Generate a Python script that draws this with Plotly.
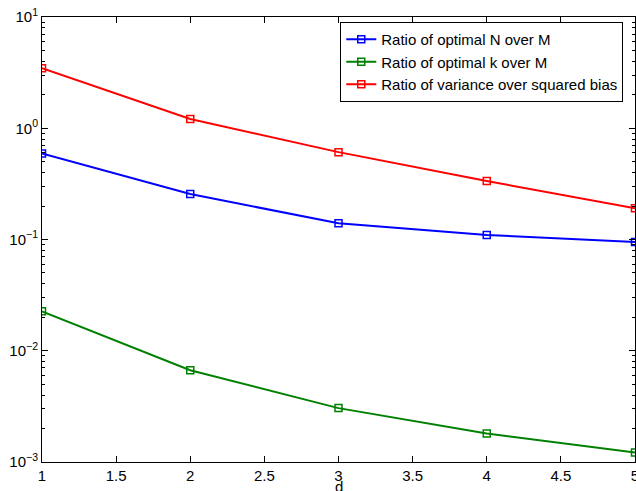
import plotly.graph_objects as go

d = [1, 2, 3, 4, 5]
ratio_N = [0.593, 0.256, 0.140, 0.110, 0.095]
ratio_k = [0.0226, 0.00668, 0.00305, 0.0018, 0.00122]
ratio_var = [3.46, 1.21, 0.61, 0.335, 0.191]
names = ["Ratio of optimal N over M", "Ratio of optimal k over M", "Ratio of variance over squared bias"]
colors = ["#0000ff", "#008000", "#ff0000"]

ytick_vals = [1e-3, 1e-2, 1e-1, 1, 10]
ytick_text = ["10<sup>−3</sup>", "10<sup>−2</sup>", "10<sup>−1</sup>", "10<sup>0</sup>", "10<sup>1</sup>"]
xtick_vals = [1, 1.5, 2, 2.5, 3, 3.5, 4, 4.5, 5]
xtick_text = ["1", "1.5", "2", "2.5", "3", "3.5", "4", "4.5", "5"]
x_title = "d"

fig = go.Figure()
for ys, nm, c in zip([ratio_N, ratio_k, ratio_var], names, colors):
    fig.add_trace(go.Scatter(
        x=d, y=ys, name=nm, mode="lines+markers",
        line=dict(color=c, width=2),
        marker=dict(symbol="square-open", size=7, color=c, line=dict(width=1.5, color=c)),
    ))

fig.update_layout(
    width=636, height=491,
    margin=dict(l=42, r=1, t=17, b=29, autoexpand=False),
    plot_bgcolor="white", paper_bgcolor="white",
    font=dict(family="Liberation Sans, Arial, sans-serif", size=15, color="black"),
    showlegend=True,
    legend=dict(x=0.503, y=0.989, xanchor="left", yanchor="top",
                bgcolor="white", bordercolor="black", borderwidth=1,
                font=dict(size=15), tracegroupgap=0, itemwidth=30),
    annotations=[dict(text=x_title, x=0.5, y=-0.031, xref="paper", yref="paper",
                      xanchor="center", yanchor="top", showarrow=False,
                      font=dict(size=15))],
)
fig.update_xaxes(
    range=[1, 5], tickvals=xtick_vals, ticktext=xtick_text, automargin=False,
    ticks="inside", ticklen=6, tickcolor="black", ticklabeloverflow="allow",
    showline=True, linecolor="black", linewidth=1, mirror="ticks",
    showgrid=False, zeroline=False,
)
fig.update_yaxes(
    type="log", range=[-3, 1], tickvals=ytick_vals, ticktext=ytick_text, automargin=False,
    ticks="inside", ticklen=6, tickcolor="black",
    showline=True, linecolor="black", linewidth=1, mirror="ticks",
    showgrid=False, zeroline=False,
    minor=dict(ticks="inside", ticklen=3, tickcolor="black", dtick="D1", showgrid=False),
)

fig.write_html("out.html")
